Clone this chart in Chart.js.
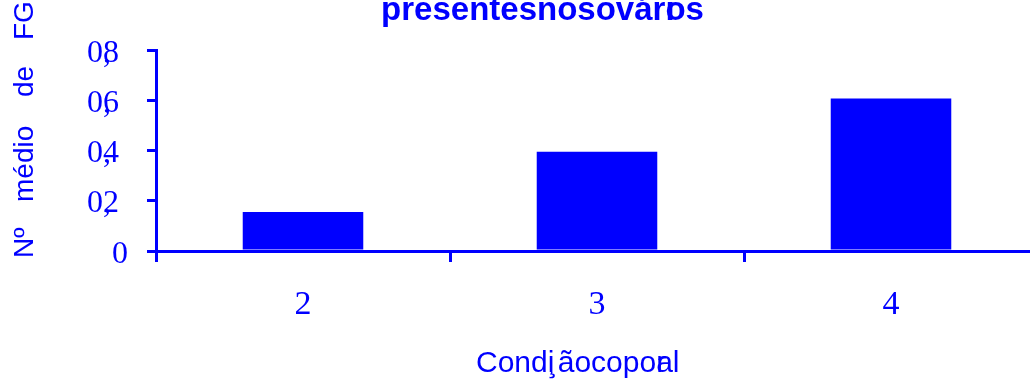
<!DOCTYPE html>
<html>
<head>
<meta charset="utf-8">
<script src="https://cdn.jsdelivr.net/npm/chart.js@4/dist/chart.umd.min.js"></script>
<style>
  html, body { margin: 0; padding: 0; overflow: hidden; background: #fff; width: 1030px; height: 379px; }
  #wrap { position: relative; width: 1040px; height: 379px; }
</style>
</head>
<body>
<div id="wrap"><canvas id="c" width="1040" height="379"></canvas></div>
<script>
// Condição corporal categories and mean FG counts
const categories = ["2", "3", "4"];
const meanFG = [0.155, 0.395, 0.607];
const yTicks = [0, 0.2, 0.4, 0.6, 0.8];
const yTickLabels = ["0", "0,2", "0,4", "0,6", "0,8"];
const xTickLabels = ["2", "3", "4"];

const BLUE = "#0000ff";
const SANS = '"Liberation Sans", Arial, sans-serif';
const SERIF = '"Liberation Serif", "Times New Roman", serif';

// Draws a sequence of text pieces; pieces given as arrays are stacked on one origin.
function drawPieces(ctx, pieces, x, y) {
  let cx = x;
  for (const p of pieces) {
    if (Array.isArray(p)) {
      let adv = 0;
      for (const s of p) { ctx.fillText(s, cx, y); adv = Math.max(adv, ctx.measureText(s).width); }
      cx += adv;
    } else {
      ctx.fillText(p, cx, y);
      cx += ctx.measureText(p).width;
    }
  }
}
function piecesWidth(ctx, pieces) {
  let w = 0;
  for (const p of pieces) {
    if (Array.isArray(p)) w += Math.max(...p.map(s => ctx.measureText(s).width));
    else w += ctx.measureText(p).width;
  }
  return w;
}

const textPlugin = {
  id: "texts",
  afterDraw(chart) {
    const ctx = chart.ctx;
    const xs = chart.scales.x, ys = chart.scales.y;
    ctx.save();
    ctx.fillStyle = BLUE;
    ctx.textBaseline = "alphabetic";
    ctx.textAlign = "left";

    // title
    ctx.font = "bold 33px " + SANS;
    const titlePieces = ["presentesnosovár", ["i", "os"]];
    const tw = piecesWidth(ctx, titlePieces);
    drawPieces(ctx, titlePieces, 542.5 - tw / 2, 20);

    // y tick labels (comma tucked under the digits)
    ctx.font = "32px " + SERIF;
    yTicks.forEach((v, i) => {
      const py = ys.getPixelForValue(v) + 11.5;
      const lab = yTickLabels[i];
      if (lab.indexOf(",") < 0) {
        ctx.textAlign = "right";
        ctx.fillText(lab, 128, py);
      } else {
        const [a, b] = lab.split(",");
        ctx.textAlign = "right";
        ctx.fillText(a + b, 119, py);
        ctx.textAlign = "left";
        ctx.fillText(",", 103, py);
      }
    });

    // x tick labels
    ctx.font = "34px " + SERIF;
    ctx.textAlign = "center";
    xTickLabels.forEach((lab, i) => {
      ctx.fillText(lab, xs.getPixelForValue(i), 314);
    });

    // x axis title
    ctx.textAlign = "left";
    ctx.font = "30px " + SANS;
    drawPieces(ctx, ["Cond", ["i", "\u00b8"], "ãocopo", ["r", "a"], "l"], 476, 372);

    // y axis title
    ctx.save();
    ctx.translate(33, 258);
    ctx.rotate(-Math.PI / 2);
    ctx.font = "28px " + SANS;
    ctx.fillText("Nº", 0, 0);
    ctx.fillText("médio", 56, 0);
    ctx.fillText("de", 161, 0);
    ctx.fillText("FG", 218, 0);
    ctx.restore();

    ctx.restore();
  }
};

new Chart(document.getElementById("c"), {
  type: "bar",
  data: {
    labels: categories,
    datasets: [{
      data: meanFG,
      backgroundColor: BLUE,
      borderWidth: 0,
      categoryPercentage: 1.0,
      barPercentage: 0.41
    }]
  },
  options: {
    responsive: false,
    animation: false,
    devicePixelRatio: 1,
    layout: { padding: { top: 50, right: 2, left: 0, bottom: 0 } },
    plugins: { legend: { display: false }, title: { display: false }, tooltip: { enabled: false } },
    scales: {
      x: {
        grid: { display: true, drawOnChartArea: false, drawTicks: true, tickLength: 11, color: BLUE, lineWidth: 3, offset: true },
        border: { display: true, color: BLUE, width: 3 },
        ticks: { display: false },
        afterFit(s) { s.height = 128; }
      },
      y: {
        min: 0, max: 0.8,
        afterBuildTicks(s) { s.ticks = yTicks.map(v => ({ value: v })); },
        grid: { display: true, drawOnChartArea: false, drawTicks: true, tickLength: 9, color: BLUE, lineWidth: 3 },
        border: { display: true, color: BLUE, width: 3 },
        ticks: { display: false },
        afterFit(s) { s.width = 156; }
      }
    }
  },
  plugins: [textPlugin]
});
</script>
</body>
</html>
